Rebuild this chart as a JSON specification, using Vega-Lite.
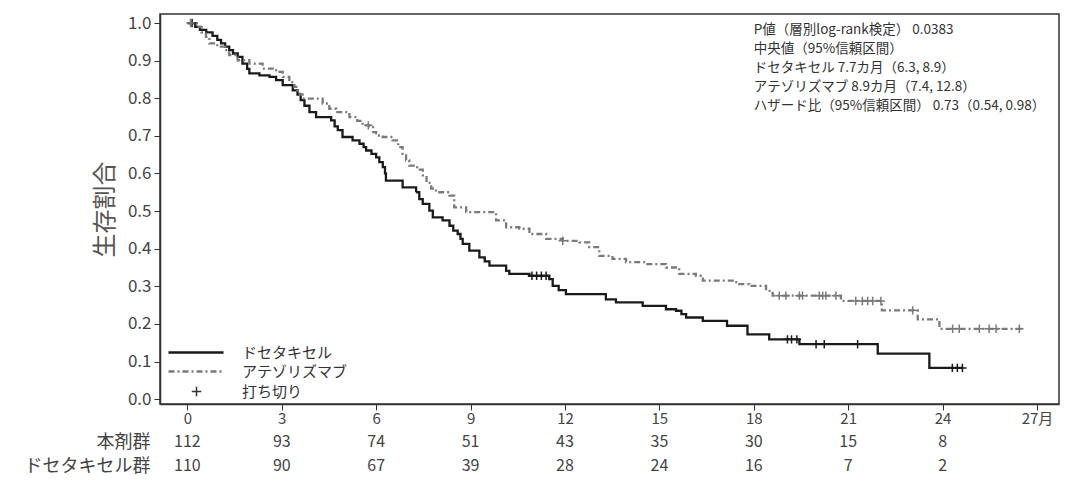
{
  "$schema": "https://vega.github.io/schema/vega-lite/v6.json",
  "padding": {"left": 24, "top": 13, "right": 15, "bottom": 0},
  "background": "white",
  "spacing": 3,
  "config": {
    "font": "Noto Sans CJK JP",
    "view": {"stroke": null},
    "axis": {"labelColor": "#444", "titleColor": "#555", "domainColor": "#333", "tickColor": "#333", "grid": false, "labelFont": "Liberation Sans Narrow, Noto Sans CJK JP", "labelOverlap": false},
    "axisY": {"labelOverlap": false}
  },
  "datasets": {
    "km": [
      {"group": "ドセタキセル", "t": 0, "s": 1.0},
      {"group": "ドセタキセル", "t": 0.25, "s": 0.99},
      {"group": "ドセタキセル", "t": 0.4, "s": 0.982},
      {"group": "ドセタキセル", "t": 0.6, "s": 0.975},
      {"group": "ドセタキセル", "t": 0.8, "s": 0.966},
      {"group": "ドセタキセル", "t": 0.95, "s": 0.955},
      {"group": "ドセタキセル", "t": 1.07, "s": 0.946},
      {"group": "ドセタキセル", "t": 1.2, "s": 0.937},
      {"group": "ドセタキセル", "t": 1.33, "s": 0.928},
      {"group": "ドセタキセル", "t": 1.45, "s": 0.919},
      {"group": "ドセタキセル", "t": 1.6, "s": 0.91},
      {"group": "ドセタキセル", "t": 1.75, "s": 0.892},
      {"group": "ドセタキセル", "t": 1.9, "s": 0.878},
      {"group": "ドセタキセル", "t": 1.97, "s": 0.866},
      {"group": "ドセタキセル", "t": 2.29, "s": 0.861},
      {"group": "ドセタキセル", "t": 2.61, "s": 0.857},
      {"group": "ドセタキセル", "t": 2.82, "s": 0.848},
      {"group": "ドセタキセル", "t": 3.03, "s": 0.835},
      {"group": "ドセタキセル", "t": 3.35, "s": 0.821},
      {"group": "ドセタキセル", "t": 3.5, "s": 0.81},
      {"group": "ドセタキセル", "t": 3.6, "s": 0.795},
      {"group": "ドセタキセル", "t": 3.72, "s": 0.78},
      {"group": "ドセタキセル", "t": 3.88, "s": 0.763},
      {"group": "ドセタキセル", "t": 4.09, "s": 0.75},
      {"group": "ドセタキセル", "t": 4.57, "s": 0.741},
      {"group": "ドセタキセル", "t": 4.68, "s": 0.725},
      {"group": "ドセタキセル", "t": 4.78, "s": 0.715},
      {"group": "ドセタキセル", "t": 4.93, "s": 0.697},
      {"group": "ドセタキセル", "t": 5.25, "s": 0.688},
      {"group": "ドセタキセル", "t": 5.47, "s": 0.679},
      {"group": "ドセタキセル", "t": 5.6, "s": 0.67},
      {"group": "ドセタキセル", "t": 5.68, "s": 0.661},
      {"group": "ドセタキセル", "t": 5.85, "s": 0.652},
      {"group": "ドセタキセル", "t": 6.0, "s": 0.643},
      {"group": "ドセタキセル", "t": 6.1, "s": 0.63},
      {"group": "ドセタキセル", "t": 6.21, "s": 0.617},
      {"group": "ドセタキセル", "t": 6.28, "s": 0.6},
      {"group": "ドセタキセル", "t": 6.31, "s": 0.581},
      {"group": "ドセタキセル", "t": 6.84, "s": 0.563},
      {"group": "ドセタキセル", "t": 7.27, "s": 0.55},
      {"group": "ドセタキセル", "t": 7.37, "s": 0.532},
      {"group": "ドセタキセル", "t": 7.48, "s": 0.519},
      {"group": "ドセタキセル", "t": 7.69, "s": 0.501},
      {"group": "ドセタキセル", "t": 7.8, "s": 0.483},
      {"group": "ドセタキセル", "t": 8.11, "s": 0.475},
      {"group": "ドセタキセル", "t": 8.33, "s": 0.461},
      {"group": "ドセタキセル", "t": 8.45, "s": 0.448},
      {"group": "ドセタキセル", "t": 8.59, "s": 0.439},
      {"group": "ドセタキセル", "t": 8.68, "s": 0.426},
      {"group": "ドセタキセル", "t": 8.75, "s": 0.413},
      {"group": "ドセタキセル", "t": 8.96, "s": 0.395},
      {"group": "ドセタキセル", "t": 9.28, "s": 0.377},
      {"group": "ドセタキセル", "t": 9.45, "s": 0.366},
      {"group": "ドセタキセル", "t": 9.6, "s": 0.355},
      {"group": "ドセタキセル", "t": 10.13, "s": 0.341},
      {"group": "ドセタキセル", "t": 10.23, "s": 0.333},
      {"group": "ドセタキセル", "t": 10.87, "s": 0.328},
      {"group": "ドセタキセル", "t": 11.5, "s": 0.319},
      {"group": "ドセタキセル", "t": 11.61, "s": 0.301},
      {"group": "ドセタキセル", "t": 11.8, "s": 0.29},
      {"group": "ドセタキセル", "t": 12.03, "s": 0.279},
      {"group": "ドセタキセル", "t": 13.3, "s": 0.265},
      {"group": "ドセタキセル", "t": 13.62, "s": 0.257},
      {"group": "ドセタキセル", "t": 14.47, "s": 0.248},
      {"group": "ドセタキセル", "t": 15.21, "s": 0.239},
      {"group": "ドセタキセル", "t": 15.53, "s": 0.235},
      {"group": "ドセタキセル", "t": 15.7, "s": 0.226},
      {"group": "ドセタキセル", "t": 15.85, "s": 0.217},
      {"group": "ドセタキセル", "t": 16.38, "s": 0.208},
      {"group": "ドセタキセル", "t": 17.15, "s": 0.195},
      {"group": "ドセタキセル", "t": 17.8, "s": 0.172},
      {"group": "ドセタキセル", "t": 18.49, "s": 0.159},
      {"group": "ドセタキセル", "t": 19.45, "s": 0.146},
      {"group": "ドセタキセル", "t": 21.94, "s": 0.121},
      {"group": "ドセタキセル", "t": 23.58, "s": 0.083},
      {"group": "ドセタキセル", "t": 24.63, "s": 0.083},
      {"group": "アテゾリズマブ", "t": 0, "s": 1.0},
      {"group": "アテゾリズマブ", "t": 0.3, "s": 0.99},
      {"group": "アテゾリズマブ", "t": 0.45, "s": 0.975},
      {"group": "アテゾリズマブ", "t": 0.59, "s": 0.963},
      {"group": "アテゾリズマブ", "t": 0.7, "s": 0.946},
      {"group": "アテゾリズマブ", "t": 0.95, "s": 0.937},
      {"group": "アテゾリズマブ", "t": 1.2, "s": 0.928},
      {"group": "アテゾリズマブ", "t": 1.33, "s": 0.915},
      {"group": "アテゾリズマブ", "t": 1.6, "s": 0.901},
      {"group": "アテゾリズマブ", "t": 1.97, "s": 0.892},
      {"group": "アテゾリズマブ", "t": 2.39, "s": 0.879},
      {"group": "アテゾリズマブ", "t": 2.82, "s": 0.87},
      {"group": "アテゾリズマブ", "t": 3.03, "s": 0.857},
      {"group": "アテゾリズマブ", "t": 3.24, "s": 0.843},
      {"group": "アテゾリズマブ", "t": 3.4, "s": 0.83},
      {"group": "アテゾリズマブ", "t": 3.5, "s": 0.821},
      {"group": "アテゾリズマブ", "t": 3.58, "s": 0.81},
      {"group": "アテゾリズマブ", "t": 3.66, "s": 0.799},
      {"group": "アテゾリズマブ", "t": 4.3, "s": 0.786},
      {"group": "アテゾリズマブ", "t": 4.51, "s": 0.772},
      {"group": "アテゾリズマブ", "t": 4.73, "s": 0.763},
      {"group": "アテゾリズマブ", "t": 5.15, "s": 0.75},
      {"group": "アテゾリズマブ", "t": 5.4, "s": 0.74},
      {"group": "アテゾリズマブ", "t": 5.57, "s": 0.728},
      {"group": "アテゾリズマブ", "t": 5.78, "s": 0.723},
      {"group": "アテゾリズマブ", "t": 5.9, "s": 0.71},
      {"group": "アテゾリズマブ", "t": 6.0, "s": 0.701},
      {"group": "アテゾリズマブ", "t": 6.21, "s": 0.697},
      {"group": "アテゾリズマブ", "t": 6.52, "s": 0.688},
      {"group": "アテゾリズマブ", "t": 6.7, "s": 0.67},
      {"group": "アテゾリズマブ", "t": 6.84, "s": 0.652},
      {"group": "アテゾリズマブ", "t": 6.95, "s": 0.635},
      {"group": "アテゾリズマブ", "t": 7.05, "s": 0.621},
      {"group": "アテゾリズマブ", "t": 7.3, "s": 0.61},
      {"group": "アテゾリズマブ", "t": 7.48, "s": 0.595},
      {"group": "アテゾリズマブ", "t": 7.6, "s": 0.575},
      {"group": "アテゾリズマブ", "t": 7.75, "s": 0.56},
      {"group": "アテゾリズマブ", "t": 7.9, "s": 0.55},
      {"group": "アテゾリズマブ", "t": 8.33, "s": 0.541},
      {"group": "アテゾリズマブ", "t": 8.48, "s": 0.51},
      {"group": "アテゾリズマブ", "t": 8.86, "s": 0.497},
      {"group": "アテゾリズマブ", "t": 9.81, "s": 0.475},
      {"group": "アテゾリズマブ", "t": 10.13, "s": 0.457},
      {"group": "アテゾリズマブ", "t": 10.55, "s": 0.453},
      {"group": "アテゾリズマブ", "t": 10.87, "s": 0.439},
      {"group": "アテゾリズマブ", "t": 11.4, "s": 0.426},
      {"group": "アテゾリズマブ", "t": 11.93, "s": 0.421},
      {"group": "アテゾリズマブ", "t": 12.46, "s": 0.417},
      {"group": "アテゾリズマブ", "t": 12.77, "s": 0.404},
      {"group": "アテゾリズマブ", "t": 13.09, "s": 0.381},
      {"group": "アテゾリズマブ", "t": 13.51, "s": 0.373},
      {"group": "アテゾリズマブ", "t": 13.94, "s": 0.364},
      {"group": "アテゾリズマブ", "t": 14.58, "s": 0.359},
      {"group": "アテゾリズマブ", "t": 15.21, "s": 0.35},
      {"group": "アテゾリズマブ", "t": 15.63, "s": 0.333},
      {"group": "アテゾリズマブ", "t": 16.16, "s": 0.328},
      {"group": "アテゾリズマブ", "t": 16.38, "s": 0.315},
      {"group": "アテゾリズマブ", "t": 17.33, "s": 0.311},
      {"group": "アテゾリズマブ", "t": 17.54, "s": 0.306},
      {"group": "アテゾリズマブ", "t": 17.86, "s": 0.301},
      {"group": "アテゾリズマブ", "t": 18.39, "s": 0.288},
      {"group": "アテゾリズマブ", "t": 18.6, "s": 0.275},
      {"group": "アテゾリズマブ", "t": 20.77, "s": 0.261},
      {"group": "アテゾリズマブ", "t": 22.07, "s": 0.236},
      {"group": "アテゾリズマブ", "t": 23.21, "s": 0.212},
      {"group": "アテゾリズマブ", "t": 23.9, "s": 0.187},
      {"group": "アテゾリズマブ", "t": 26.6, "s": 0.187}
    ],
    "censor": [
      {"group": "ドセタキセル", "t": 0.15, "s": 1.0},
      {"group": "ドセタキセル", "t": 10.95, "s": 0.328},
      {"group": "ドセタキセル", "t": 11.1, "s": 0.328},
      {"group": "ドセタキセル", "t": 11.25, "s": 0.328},
      {"group": "ドセタキセル", "t": 11.4, "s": 0.328},
      {"group": "ドセタキセル", "t": 19.07, "s": 0.159},
      {"group": "ドセタキセル", "t": 19.2, "s": 0.159},
      {"group": "ドセタキセル", "t": 19.37, "s": 0.159},
      {"group": "ドセタキセル", "t": 19.98, "s": 0.146},
      {"group": "ドセタキセル", "t": 20.24, "s": 0.146},
      {"group": "ドセタキセル", "t": 21.3, "s": 0.146},
      {"group": "ドセタキセル", "t": 24.31, "s": 0.083},
      {"group": "ドセタキセル", "t": 24.47, "s": 0.083},
      {"group": "ドセタキセル", "t": 24.63, "s": 0.083},
      {"group": "アテゾリズマブ", "t": 0.1, "s": 1.0},
      {"group": "アテゾリズマブ", "t": 5.75, "s": 0.728},
      {"group": "アテゾリズマブ", "t": 11.93, "s": 0.421},
      {"group": "アテゾリズマブ", "t": 18.81, "s": 0.275},
      {"group": "アテゾリズマブ", "t": 19.02, "s": 0.275},
      {"group": "アテゾリズマブ", "t": 19.45, "s": 0.275},
      {"group": "アテゾリズマブ", "t": 19.55, "s": 0.275},
      {"group": "アテゾリズマブ", "t": 20.08, "s": 0.275},
      {"group": "アテゾリズマブ", "t": 20.19, "s": 0.275},
      {"group": "アテゾリズマブ", "t": 20.29, "s": 0.275},
      {"group": "アテゾリズマブ", "t": 20.61, "s": 0.275},
      {"group": "アテゾリズマブ", "t": 21.24, "s": 0.261},
      {"group": "アテゾリズマブ", "t": 21.45, "s": 0.261},
      {"group": "アテゾリズマブ", "t": 21.62, "s": 0.261},
      {"group": "アテゾリズマブ", "t": 21.78, "s": 0.261},
      {"group": "アテゾリズマブ", "t": 22.04, "s": 0.261},
      {"group": "アテゾリズマブ", "t": 23.05, "s": 0.236},
      {"group": "アテゾリズマブ", "t": 24.32, "s": 0.187},
      {"group": "アテゾリズマブ", "t": 24.53, "s": 0.187},
      {"group": "アテゾリズマブ", "t": 25.17, "s": 0.187},
      {"group": "アテゾリズマブ", "t": 25.48, "s": 0.187},
      {"group": "アテゾリズマブ", "t": 25.7, "s": 0.187},
      {"group": "アテゾリズマブ", "t": 26.44, "s": 0.187}
    ],
    "note": [
      {"line": "P値（層別log-rank検定） 0.0383", "t": 18.0, "s": 0.982},
      {"line": "中央値（95%信頼区間）", "t": 18.0, "s": 0.932},
      {"line": "ドセタキセル 7.7カ月（6.3, 8.9）", "t": 18.0, "s": 0.881},
      {"line": "アテゾリズマブ 8.9カ月（7.4, 12.8）", "t": 18.0, "s": 0.83},
      {"line": "ハザード比（95%信頼区間） 0.73（0.54, 0.98）", "t": 18.0, "s": 0.779}
    ],
    "risk": [
      {"row": "本剤群", "t": 0, "n": 112},
      {"row": "本剤群", "t": 3, "n": 93},
      {"row": "本剤群", "t": 6, "n": 74},
      {"row": "本剤群", "t": 9, "n": 51},
      {"row": "本剤群", "t": 12, "n": 43},
      {"row": "本剤群", "t": 15, "n": 35},
      {"row": "本剤群", "t": 18, "n": 30},
      {"row": "本剤群", "t": 21, "n": 15},
      {"row": "本剤群", "t": 24, "n": 8},
      {"row": "ドセタキセル群", "t": 0, "n": 110},
      {"row": "ドセタキセル群", "t": 3, "n": 90},
      {"row": "ドセタキセル群", "t": 6, "n": 67},
      {"row": "ドセタキセル群", "t": 9, "n": 39},
      {"row": "ドセタキセル群", "t": 12, "n": 28},
      {"row": "ドセタキセル群", "t": 15, "n": 24},
      {"row": "ドセタキセル群", "t": 18, "n": 16},
      {"row": "ドセタキセル群", "t": 21, "n": 7},
      {"row": "ドセタキセル群", "t": 24, "n": 2}
    ]
  },
  "vconcat": [
    {
      "width": 899,
      "height": 390,
      "view": {"stroke": "#333", "strokeWidth": 1.5},
      "encoding": {
        "x": {"field": "t", "type": "quantitative", "scale": {"domain": [-0.87, 27.7], "nice": false, "zero": false},
              "axis": {"values": [0, 3, 6, 9, 12, 15, 18, 21, 24, 27], "labelExpr": "datum.value == 27 ? '27月' : datum.label", "title": null, "tickSize": 6, "labelFontSize": 15, "labelPadding": 1, "domainWidth": 1.5}},
        "y": {"field": "s", "type": "quantitative", "scale": {"domain": [-0.013, 1.024], "nice": false, "zero": false},
              "axis": {"values": [0, 0.1, 0.2, 0.3, 0.4, 0.5, 0.6, 0.7, 0.8, 0.9, 1.0], "tickCount": 11, "labelOverlap": false, "format": ".1f", "title": "生存割合", "titleFontSize": 24, "titleFontWeight": "normal", "titleFont": "Noto Sans CJK JP", "titlePadding": 10, "tickSize": 6, "labelFontSize": 17, "labelPadding": 3, "domainWidth": 1.5}}
      },
      "layer": [
        {
          "data": {"name": "km"},
          "mark": {"type": "line", "interpolate": "step-after", "strokeWidth": 2.3},
          "encoding": {
            "color": {"field": "group", "type": "nominal", "scale": {"domain": ["ドセタキセル", "アテゾリズマブ"], "range": ["#1a1a1a", "#7a7a7a"]},
                      "legend": {"title": null, "orient": "none", "legendX": 28.5, "legendY": 331, "symbolType": "M-5.5,0H5.5", "symbolSize": 100, "symbolStrokeWidth": 2.5, "labelFontSize": 15, "labelColor": "#333", "labelOffset": 38.5, "rowPadding": 3, "padding": 0}},
            "strokeDash": {"field": "group", "type": "nominal", "scale": {"domain": ["ドセタキセル", "アテゾリズマブ"], "range": [[1, 0], [6, 3, 2, 3]]},
                      "legend": {"title": null, "orient": "none", "legendX": 28.5, "legendY": 331, "symbolType": "M-5.5,0H5.5", "symbolSize": 100, "symbolStrokeWidth": 2.5, "labelFontSize": 15, "labelColor": "#333", "labelOffset": 38.5, "rowPadding": 3, "padding": 0}}
          }
        },
        {
          "data": {"name": "censor"},
          "transform": [{"filter": "datum.group == 'ドセタキセル'"}],
          "mark": {"type": "point", "filled": false, "stroke": "#1a1a1a", "strokeWidth": 1.5, "size": 70, "opacity": 1},
          "encoding": {
            "shape": {"datum": "打ち切り", "scale": {"domain": ["打ち切り"], "range": ["M-1,0H1M0,-1V1"]},
                      "legend": {"title": null, "orient": "none", "legendX": 29, "legendY": 370, "symbolStrokeColor": "#333", "symbolFillColor": "transparent", "symbolSize": 90, "symbolStrokeWidth": 1.5, "labelFontSize": 15, "labelColor": "#333", "labelOffset": 38, "padding": 0}}
          }
        },
        {
          "data": {"name": "censor"},
          "transform": [{"filter": "datum.group == 'アテゾリズマブ'"}],
          "mark": {"type": "point", "filled": false, "stroke": "#7a7a7a", "strokeWidth": 1.5, "size": 70, "opacity": 1},
          "encoding": {
            "shape": {"datum": "打ち切り"}
          }
        },
        {
          "data": {"name": "note"},
          "mark": {"type": "text", "align": "left", "baseline": "middle", "fontSize": 13.5, "color": "#333", "font": "Noto Sans CJK JP"},
          "encoding": {
            "text": {"field": "line"}
          }
        }
      ]
    },
    {
      "width": 899,
      "height": 48,
      "data": {"name": "risk"},
      "mark": {"type": "text", "fontSize": 16, "color": "#444", "font": "Liberation Sans Narrow, Noto Sans CJK JP"},
      "encoding": {
        "x": {"field": "t", "type": "quantitative", "scale": {"domain": [-0.87, 27.7], "nice": false, "zero": false}, "axis": null},
        "y": {"field": "row", "type": "nominal", "sort": ["本剤群", "ドセタキセル群"],
              "axis": {"title": null, "domain": false, "ticks": false, "labelFontSize": 18, "labelPadding": 10, "labelColor": "#444", "labelFont": "Noto Sans CJK JP"}},
        "text": {"field": "n", "type": "quantitative"}
      }
    }
  ]
}
